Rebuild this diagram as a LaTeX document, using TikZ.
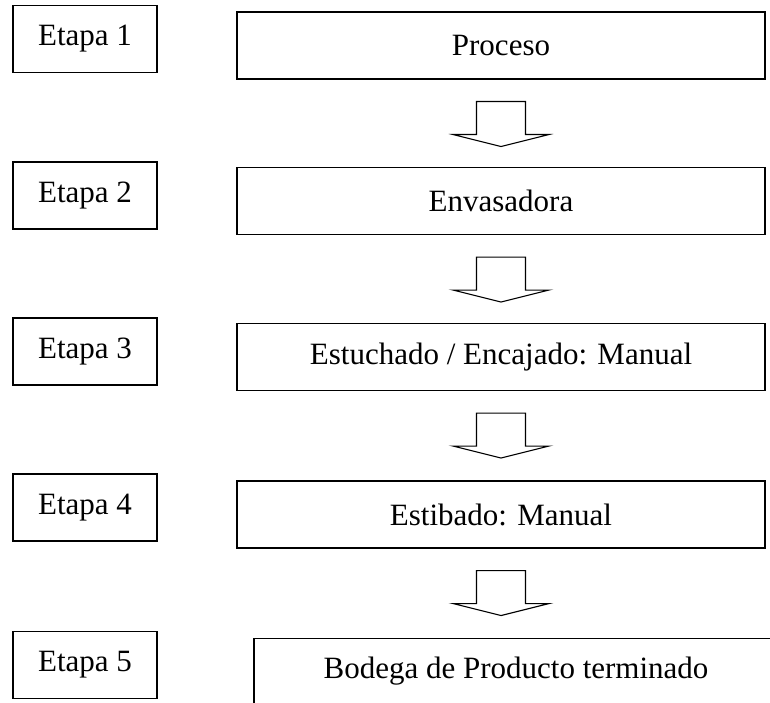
\documentclass[tikz,border=0pt]{standalone}
\usepackage{fontspec}
\setmainfont{Liberation Serif}

\begin{document}
\begin{tikzpicture}
  [x=1pt,y=-1pt,every node/.style={draw,rectangle,line width=1.1pt,inner sep=0pt,
   font=\fontsize{31}{37}\selectfont}]

  \tikzstyle{etapa} = [minimum width=144pt,minimum height=67pt]
  \tikzstyle{paso}  = [minimum width=528pt,minimum height=67pt]
  \tikzset{flecha/.pic={
    \draw[line width=1.1pt] (-24.5,0) -- (-24.5,33) -- (-48,33) -- (0,45)
      -- (48,33) -- (24.5,33) -- (24.5,0) -- cycle;}}

  \useasboundingbox (0,0) rectangle (770,703);

  \node[etapa] (e1) at (85,39)    {Etapa 1};
  \node[etapa] (e2) at (85,195.5) {Etapa 2};
  \node[etapa] (e3) at (85,351.5) {Etapa 3};
  \node[etapa] (e4) at (85,507.5) {Etapa 4};
  \node[etapa] (e5) at (85,665)   {Etapa 5};

  \node[paso] (p1) at (501,45.5)  {Proceso};
  \node[paso] (p2) at (501,201)   {Envasadora};
  \node[paso] (p3) at (501,357)   {Estuchado / Encajado: Manual};
  \node[paso] (p4) at (501,514.5) {Estibado: Manual};
  \node[anchor=north,minimum width=524pt,text height=40pt,text depth=40pt]
        (p5) at (516,638) {Bodega de Producto terminado};

  \path (p1.south) ++(0,22) pic {flecha};
  \path (p2.south) ++(0,22) pic {flecha};
  \path (p3.south) ++(0,22) pic {flecha};
  \path (p4.south) ++(0,22) pic {flecha};
\end{tikzpicture}
\end{document}
